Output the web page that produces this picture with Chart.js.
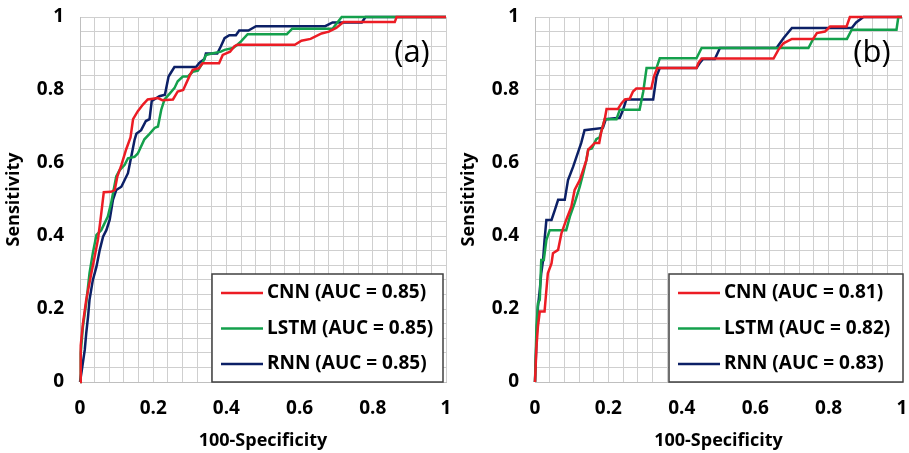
<!DOCTYPE html>
<html>
<head>
<meta charset="utf-8">
<script src="https://cdn.jsdelivr.net/npm/chart.js@4.4.0/dist/chart.umd.min.js"></script>
<style>
  body { margin: 0; background: #fff; }
  #wrap { position: relative; width: 909px; height: 453px; }
  canvas { position: absolute; top: 0; }
  #roc-a { left: 0; }
  #roc-b { left: 455px; }
</style>
</head>
<body>
<div id="wrap">
  <canvas id="roc-a" width="455" height="453"></canvas>
  <canvas id="roc-b" width="454" height="453"></canvas>
</div>
<script>
const FONT = "'Open Sans', sans-serif";
const MODELS = ['CNN', 'LSTM', 'RNN'];
const COLORS = ['#ec1c24', '#14a04c', '#0c2066'];
const TICK_LABELS = ['0', '0.2', '0.4', '0.6', '0.8', '1'];
const AUC_A = ['0.85', '0.85', '0.85'];
const AUC_B = ['0.81', '0.82', '0.83'];

// panel (a)
const aCnnX = [0, 0.002, 0.008, 0.017, 0.031, 0.04, 0.049, 0.056, 0.065, 0.085, 0.095, 0.102, 0.113, 0.126, 0.138, 0.145, 0.158, 0.172, 0.185, 0.213, 0.225, 0.254, 0.267, 0.282, 0.3, 0.308, 0.325, 0.335, 0.38, 0.39, 0.41, 0.422, 0.43, 0.587, 0.605, 0.63, 0.66, 0.68, 0.7, 0.72, 0.86, 0.865, 1];
const aCnnY = [0, 0.1, 0.16, 0.225, 0.298, 0.343, 0.39, 0.444, 0.52, 0.521, 0.526, 0.563, 0.594, 0.637, 0.67, 0.72, 0.742, 0.76, 0.774, 0.778, 0.772, 0.774, 0.796, 0.8, 0.84, 0.855, 0.86, 0.873, 0.873, 0.896, 0.905, 0.92, 0.924, 0.924, 0.935, 0.94, 0.955, 0.96, 0.97, 0.986, 0.986, 1, 1];
const aLstmX = [0, 0.002, 0.008, 0.017, 0.026, 0.035, 0.045, 0.058, 0.076, 0.085, 0.099, 0.108, 0.122, 0.131, 0.149, 0.158, 0.176, 0.19, 0.204, 0.213, 0.222, 0.231, 0.245, 0.258, 0.267, 0.281, 0.295, 0.308, 0.322, 0.335, 0.344, 0.36, 0.385, 0.395, 0.418, 0.43, 0.44, 0.458, 0.565, 0.58, 0.69, 0.715, 1];
const aLstmY = [0, 0.079, 0.152, 0.216, 0.298, 0.353, 0.403, 0.416, 0.453, 0.49, 0.563, 0.58, 0.595, 0.613, 0.617, 0.626, 0.665, 0.68, 0.696, 0.7, 0.746, 0.774, 0.79, 0.805, 0.824, 0.837, 0.837, 0.85, 0.853, 0.874, 0.896, 0.9, 0.905, 0.91, 0.915, 0.924, 0.933, 0.953, 0.953, 0.968, 0.968, 1, 1];
const aRnnX = [0, 0.005, 0.013, 0.017, 0.022, 0.026, 0.035, 0.045, 0.054, 0.063, 0.072, 0.081, 0.09, 0.099, 0.113, 0.131, 0.14, 0.149, 0.154, 0.167, 0.18, 0.19, 0.196, 0.217, 0.232, 0.242, 0.25, 0.258, 0.317, 0.326, 0.34, 0.344, 0.375, 0.385, 0.395, 0.408, 0.426, 0.435, 0.46, 0.481, 0.67, 0.69, 0.77, 0.78, 1];
const aRnnY = [0, 0.033, 0.088, 0.133, 0.179, 0.225, 0.279, 0.316, 0.362, 0.398, 0.416, 0.444, 0.499, 0.526, 0.535, 0.572, 0.617, 0.663, 0.68, 0.69, 0.715, 0.72, 0.77, 0.783, 0.787, 0.837, 0.85, 0.863, 0.863, 0.874, 0.885, 0.9, 0.9, 0.92, 0.942, 0.95, 0.95, 0.963, 0.963, 0.975, 0.975, 0.985, 0.985, 1, 1];

// panel (b)
const bCnnX = [0, 0.004, 0.008, 0.013, 0.026, 0.035, 0.045, 0.049, 0.063, 0.072, 0.085, 0.099, 0.108, 0.122, 0.14, 0.145, 0.163, 0.175, 0.18, 0.19, 0.195, 0.226, 0.236, 0.245, 0.258, 0.267, 0.276, 0.317, 0.324, 0.333, 0.44, 0.445, 0.454, 0.65, 0.663, 0.677, 0.7, 0.758, 0.768, 0.79, 0.804, 0.849, 0.858, 1];
const bCnnY = [0, 0.097, 0.152, 0.193, 0.193, 0.298, 0.325, 0.353, 0.362, 0.407, 0.444, 0.48, 0.526, 0.553, 0.608, 0.637, 0.655, 0.655, 0.683, 0.72, 0.748, 0.748, 0.764, 0.774, 0.776, 0.796, 0.804, 0.804, 0.837, 0.86, 0.86, 0.874, 0.886, 0.886, 0.91, 0.928, 0.94, 0.94, 0.956, 0.96, 0.974, 0.974, 1, 1];
const bLstmX = [0, 0.004, 0.008, 0.013, 0.017, 0.024, 0.031, 0.04, 0.085, 0.095, 0.108, 0.122, 0.131, 0.14, 0.145, 0.155, 0.167, 0.176, 0.19, 0.222, 0.231, 0.285, 0.295, 0.304, 0.331, 0.34, 0.44, 0.454, 0.745, 0.758, 0.85, 0.863, 0.985, 0.99, 1];
const bLstmY = [0, 0.152, 0.216, 0.225, 0.334, 0.334, 0.389, 0.416, 0.416, 0.453, 0.49, 0.535, 0.57, 0.608, 0.637, 0.64, 0.665, 0.67, 0.72, 0.72, 0.746, 0.746, 0.796, 0.86, 0.86, 0.887, 0.887, 0.915, 0.915, 0.94, 0.94, 0.965, 0.965, 1, 1];
const bRnnX = [0, 0.004, 0.008, 0.013, 0.017, 0.022, 0.026, 0.031, 0.045, 0.054, 0.063, 0.081, 0.09, 0.104, 0.113, 0.126, 0.135, 0.185, 0.193, 0.231, 0.24, 0.249, 0.322, 0.331, 0.34, 0.44, 0.449, 0.458, 0.49, 0.504, 0.658, 0.677, 0.7, 0.863, 0.875, 0.895, 1];
const bRnnY = [0, 0.115, 0.206, 0.252, 0.298, 0.334, 0.389, 0.444, 0.444, 0.471, 0.499, 0.499, 0.553, 0.59, 0.617, 0.655, 0.69, 0.696, 0.72, 0.724, 0.746, 0.774, 0.774, 0.837, 0.86, 0.86, 0.874, 0.885, 0.885, 0.915, 0.915, 0.942, 0.97, 0.97, 0.985, 1, 1];


function toPoints(xs, ys) {
  return xs.map((x, i) => ({ x: x, y: ys[i] }));
}

function tickLabel(value) {
  const i = Math.round(value / 0.2);
  return Math.abs(value - i * 0.2) < 1e-6 ? TICK_LABELS[i] : '';
}

// legend box + panel tag drawn inside the plot area
const rocLegend = {
  id: 'rocLegend',
  afterDatasetsDraw(chart, args, opts) {
    const { ctx, chartArea } = chart;
    const x0 = chartArea.left + opts.left;
    const y0 = chartArea.bottom - 108;
    ctx.save();
    ctx.fillStyle = '#fff';
    ctx.fillRect(x0, y0, opts.width, 108);
    ctx.strokeStyle = '#404040';
    ctx.lineWidth = 1.5;
    ctx.strokeRect(x0, y0, opts.width, 108);
    ctx.font = 'bold 19px ' + FONT;
    ctx.textBaseline = 'middle';
    chart.data.datasets.forEach((ds, i) => {
      const y = y0 + 19 + i * 35.5;
      ctx.strokeStyle = ds.borderColor;
      ctx.lineWidth = 2.5;
      ctx.beginPath();
      ctx.moveTo(x0 + 9, y);
      ctx.lineTo(x0 + 51, y);
      ctx.stroke();
      ctx.fillStyle = '#000';
      ctx.fillText(ds.label, x0 + 55, y);
    });
    ctx.font = '31px ' + FONT;
    ctx.textAlign = 'center';
    ctx.fillStyle = '#000';
    ctx.fillText(opts.tag, chartArea.right - opts.tagRight, chartArea.top + 36);
    ctx.restore();
  }
};

function axisFont(size) {
  return { family: FONT, size: size, weight: 'bold' };
}

// fixed axis boxes so the plot area lands where the original one is
function fitX(s) {
  s.height = 71;
  s.paddingLeft = 0;
  s.paddingRight = 0;
}

function fitY(s) {
  s.width = 80;
  s.paddingTop = 0;
  s.paddingBottom = 0;
}

function makeChart(id, series, aucs, legendOpts, rightPad) {
  const ctx = document.getElementById(id);
  const datasets = series.map((s, i) => ({
    label: MODELS[i] + ' (AUC = ' + aucs[i] + ')',
    data: toPoints(s[0], s[1]),
    borderColor: COLORS[i],
    borderWidth: 2.5,
    pointRadius: 0,
    showLine: true,
    fill: false,
    tension: 0,
    clip: 4
  }));
  const grid = { color: '#cfcfcf', drawTicks: false };
  new Chart(ctx, {
    type: 'scatter',
    data: { datasets: datasets },
    plugins: [rocLegend],
    options: {
      responsive: false,
      animation: false,
      layout: { padding: { top: 17, right: rightPad, left: 0, bottom: 0 } },
      plugins: {
        legend: { display: false },
        tooltip: { enabled: false },
        rocLegend: legendOpts
      },
      scales: {
        x: {
          type: 'linear', min: 0, max: 1,
          ticks: { stepSize: 0.04, autoSkip: false, maxRotation: 0, padding: 15, color: '#000', font: axisFont(19), callback: tickLabel },
          grid: grid,
          border: { color: '#bfbfbf' },
          title: { display: true, text: '100-Specificity', color: '#000', font: axisFont(18), padding: { top: 0, bottom: 1 } },
          afterFit: fitX
        },
        y: {
          type: 'linear', min: 0, max: 1,
          ticks: { stepSize: 0.04, autoSkip: false, padding: 16, color: '#000', font: axisFont(19), callback: tickLabel },
          grid: grid,
          border: { color: '#bfbfbf' },
          title: { display: true, text: 'Sensitivity', color: '#000', font: axisFont(18), padding: { top: 3, bottom: 0 } },
          afterFit: fitY
        }
      }
    }
  });
}

makeChart('roc-a',
  [[aCnnX, aCnnY], [aLstmX, aLstmY], [aRnnX, aRnnY]],
  AUC_A, { left: 132, width: 231, tag: '(a)', tagRight: 34 }, 9);
makeChart('roc-b',
  [[bCnnX, bCnnY], [bLstmX, bLstmY], [bRnnX, bRnnY]],
  AUC_B, { left: 134, width: 234, tag: '(b)', tagRight: 30 }, 7);
</script>
</body>
</html>
